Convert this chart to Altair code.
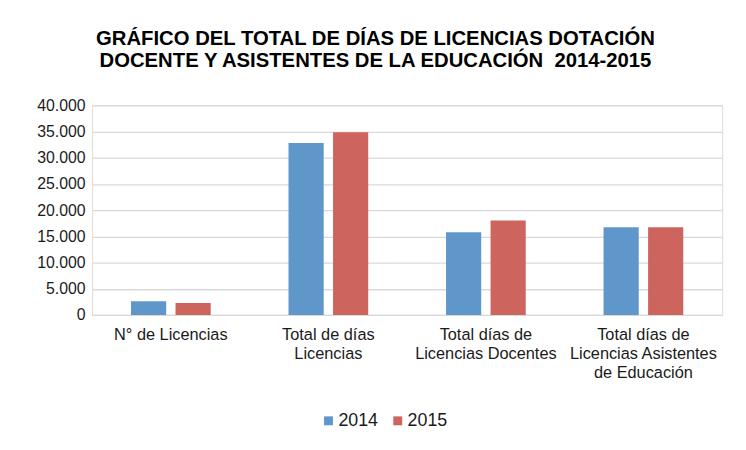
import altair as alt
import pandas as pd

categories = [
    "N° de Licencias",
    "Total de días|Licencias",
    "Total días de|Licencias Docentes",
    "Total días de|Licencias Asistentes|de Educación",
]
years = ["2014", "2015"]
values_2014 = [2600, 32800, 15800, 16750]
values_2015 = [2300, 34870, 18000, 16750]
colors = ["#6097CA", "#CD655E"]
y_ticks = [0, 5000, 10000, 15000, 20000, 25000, 30000, 35000, 40000]
title_lines = [
    "GRÁFICO DEL TOTAL DE DÍAS DE LICENCIAS DOTACIÓN",
    "DOCENTE Y ASISTENTES DE LA EDUCACIÓN\u00a0 2014-2015",
]

rows = []
for c, a, b in zip(categories, values_2014, values_2015):
    rows.append({"cat": c, "year": years[0], "value": a})
    rows.append({"cat": c, "year": years[1], "value": b})
df = pd.DataFrame(rows)

FONT = "Liberation Sans"

chart = (
    alt.Chart(df)
    .mark_bar()
    .encode(
        x=alt.X(
            "cat:N",
            sort=categories,
            scale=alt.Scale(paddingInner=0.494, paddingOuter=0.247),
            axis=alt.Axis(
                title=None,
                labelAngle=0,
                labelExpr="split(datum.value, '|')",
                ticks=False,
                domain=True,
                domainColor="#D9D9D9",
                domainWidth=1.3,
                labelFont=FONT,
                labelFontSize=16.5,
                labelColor="#1a1a1a",
                labelPadding=12,
                labelBaseline="top",
                labelLineHeight=19,
            ),
        ),
        xOffset=alt.XOffset(
            "year:N", sort=years, scale=alt.Scale(paddingInner=0.21, paddingOuter=0)
        ),
        y=alt.Y(
            "value:Q",
            scale=alt.Scale(domain=[0, 40000], nice=False),
            axis=alt.Axis(
                title=None,
                values=y_ticks,
                labelExpr="replace(format(datum.value, ','), ',', '.')",
                ticks=False,
                domain=False,
                grid=True,
                gridColor="#D9D9D9",
                gridWidth=1.3,
                labelFont=FONT,
                labelFontSize=16,
                labelColor="#1a1a1a",
                labelPadding=7,
            ),
        ),
        color=alt.Color(
            "year:N",
            sort=years,
            scale=alt.Scale(domain=years, range=colors),
            legend=alt.Legend(
                title=None,
                orient="none",
                direction="horizontal",
                legendX=230,
                legendY=310,
                padding=0,
                symbolType="square",
                symbolSize=81,
                symbolStrokeWidth=0,
                labelFont=FONT,
                labelFontSize=18,
                labelColor="#1a1a1a",
                labelOffset=1,
                columnPadding=10,
            ),
        ),
    )
    .properties(
        width=637,
        height=212,
        title=alt.TitleParams(
            text=title_lines,
            font=FONT,
            fontSize=20.5,
            fontWeight="bold",
            color="#000000",
            anchor="middle",
            frame="group",
            dx=-32,
            offset=26,
            lineHeight=22,
        ),
        autosize=alt.AutoSizeParams(type="none"),
        padding={"left": 85, "top": 96, "right": 16, "bottom": 120},
    )
    .configure_view(stroke=None)
    .configure(background="white")
)

chart.save("out.html", embed_options={"renderer": "svg", "actions": False})
